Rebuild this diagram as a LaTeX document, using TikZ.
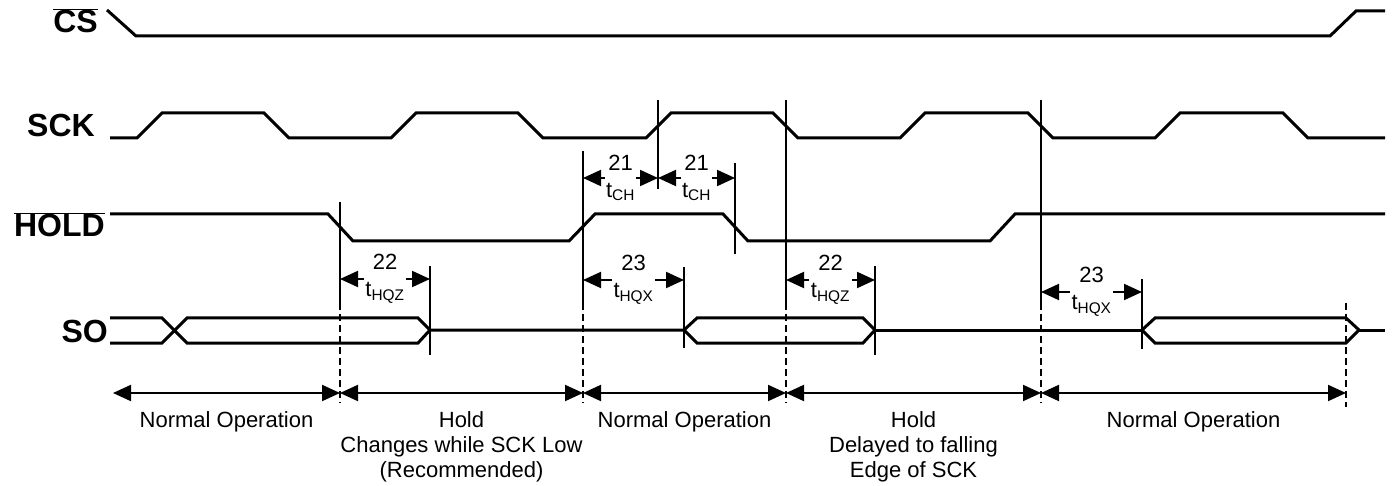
\documentclass[tikz,border=0pt]{standalone}
\usepackage{fontspec}
\setmainfont{Liberation Sans}
\usetikzlibrary{arrows.meta,positioning}

\begin{document}
\begin{tikzpicture}[x=1pt, y=-1pt,
  sig/.style={line width=3pt},
  edge/.style={line width=1.8pt},
  dashedge/.style={line width=2.2pt, dash pattern=on 7pt off 4pt},
  dim/.style={{Triangle[length=18pt,width=16pt]}-{Triangle[length=18pt,width=16pt]}, line width=2pt},
  dimlabel/.style={fill=white, align=center, inner sep=1.5pt, font=\fontsize{22}{27}\selectfont},
  siglabel/.style={anchor=base east, inner sep=0pt, font=\fontsize{32}{38}\selectfont\bfseries},
  oplabel/.style={below=18pt, align=center, inner sep=0pt, font=\fontsize{22}{25}\selectfont}
]
\useasboundingbox (0,0) rectangle (1392,486);

\node[siglabel] (cs) at (98,33) {$\overline{\mbox{CS}}$};
\node[siglabel] (sck) at (95,137) {SCK};
\node[siglabel] (hold) at (105,237) {$\overline{\mbox{HOLD}}$};
\node[siglabel] (so) at (108,342) {SO};

\draw[sig] (107,10) -- (136,36) -- (1330,36) -- (1356,11) -- (1385,11);
\draw[sig] (110,138) -- (137,138) -- (162,113) -- (264,113) -- (289,138) -- (391,138) -- (416,113) -- (518,113) -- (543,138) -- (646,138) -- (671,113) -- (773,113) -- (798,138) -- (900,138) -- (925,113) -- (1028,113) -- (1053,138) -- (1155,138) -- (1180,113) -- (1283,113) -- (1308,138) -- (1385,138);
\draw[sig] (110,214) -- (328,214) -- (353,241) -- (569,241) -- (595,214) -- (723,214) -- (748,241) -- (990,241) -- (1015,214) -- (1385,214);
\draw[sig] (110,318) -- (162,318) -- (187,343) -- (418,343) -- (430,330) -- (684,330);
\draw[sig] (110,343) -- (162,343) -- (187,318) -- (418,318) -- (430,330);
\draw[sig] (684,330) -- (697,318) -- (863,318) -- (875,330) -- (863,343) -- (697,343) -- cycle;
\draw[sig] (875,330) -- (1142,330);
\draw[sig] (1142,330) -- (1155,318) -- (1346,318) -- (1359,330) -- (1346,343) -- (1155,343) -- cycle;
\draw[sig] (1359,330) -- (1385,330);

\foreach \x/\top in {340/202, 583/151, 786/100, 1041/100} {
  \draw[edge] (\x,\top) -- (\x,303);
  \draw[dashedge] (\x,303) -- (\x,403);
}
\draw[edge] (658,100) -- (658,189);
\draw[edge] (735,163) -- (735,254);
\draw[edge] (430,266) -- (430,355);
\draw[edge] (684,267) -- (684,348);
\draw[edge] (875,266) -- (875,355);
\draw[edge] (1142,279) -- (1142,349);
\draw[dashedge] (1346,303) -- (1346,407);

\coordinate (ch0) at (583,178);
\coordinate (ch1) at (658,178);
\coordinate (ch2) at (735,178);
\coordinate (hqz0) at (340,279);
\coordinate (hqz1) at (430,279);
\coordinate (hqx0) at (583,280);
\coordinate (hqx1) at (684,280);
\coordinate (hqz2) at (786,280);
\coordinate (hqz3) at (875,280);
\coordinate (hqx2) at (1041,292);
\coordinate (hqx3) at (1142,292);

\draw[dim] (ch0) -- node[dimlabel]{21\\t\textsubscript{CH}} (ch1);
\draw[dim] (ch1) -- node[dimlabel]{21\\t\textsubscript{CH}} (ch2);
\draw[dim] (hqz0) -- node[dimlabel]{22\\t\textsubscript{HQZ}} (hqz1);
\draw[dim] (hqx0) -- node[dimlabel]{23\\t\textsubscript{HQX}} (hqx1);
\draw[dim] (hqz2) -- node[dimlabel]{22\\t\textsubscript{HQZ}} (hqz3);
\draw[dim] (hqx2) -- node[dimlabel]{23\\t\textsubscript{HQX}} (hqx3);

\coordinate (op0) at (113,393);
\coordinate (op1) at (340,393);
\coordinate (op2) at (583,393);
\coordinate (op3) at (786,393);
\coordinate (op4) at (1041,393);
\coordinate (op5) at (1346,393);

\draw[dim] (op0) -- node[oplabel]{Normal Operation} (op1);
\draw[dim] (op1) -- node[oplabel]{Hold\\Changes while SCK Low\\(Recommended)} (op2);
\draw[dim] (op2) -- node[oplabel]{Normal Operation} (op3);
\draw[dim] (op3) -- node[oplabel]{Hold\\Delayed to falling\\Edge of SCK} (op4);
\draw[dim] (op4) -- node[oplabel]{Normal Operation} (op5);
\end{tikzpicture}
\end{document}
